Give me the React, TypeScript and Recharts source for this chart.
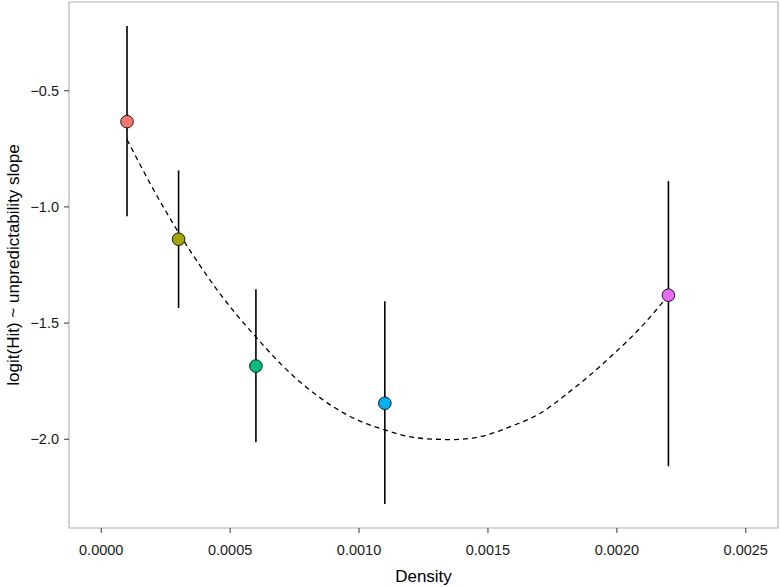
import React from 'react'
import {
  ComposedChart, Line, Scatter, ErrorBar, XAxis, YAxis, ReferenceArea, Cell,
} from 'recharts'

// group estimates
const densities = [0.0001, 0.0003, 0.0006, 0.0011, 0.0022]
const slopes = [-0.633, -1.139, -1.685, -1.845, -1.38]
const lower = [-1.04, -1.435, -2.013, -2.279, -2.116]
const upper = [-0.221, -0.843, -1.354, -1.406, -0.888]
const COLORS = ['#F8766D', '#A3A500', '#00BF7D', '#00B0F6', '#E76BF3']

// dashed fitted curve
const curveX = [0.0001, 0.0002, 0.0003, 0.0004, 0.0005, 0.0006, 0.0007, 0.0008, 0.0009, 0.001, 0.0011,
  0.0012, 0.0013, 0.0014, 0.0015, 0.0016, 0.0017, 0.0018, 0.0019, 0.002, 0.0021, 0.0022]
const curveY = [-0.71, -0.92, -1.11, -1.28, -1.43, -1.56, -1.68, -1.78, -1.86, -1.92, -1.96,
  -1.99, -2.0, -2.0, -1.98, -1.94, -1.89, -1.81, -1.72, -1.62, -1.51, -1.38]

const xTicks = [0, 0.0005, 0.001, 0.0015, 0.002, 0.0025]
const yTicks = [-2.0, -1.5, -1.0, -0.5]
const X_DOMAIN: [number, number] = [-0.000125, 0.002625]
const Y_DOMAIN: [number, number] = [-2.382, -0.118]

const FONT = "'Liberation Sans', Arial, sans-serif"
const TICK = { fontFamily: FONT, fontSize: 14.5, fill: '#1a1a1a' }
const TITLE = { fontFamily: FONT, fontSize: 17, fill: '#000' }

const points = densities.map((d, i) => ({
  x: d,
  y: slopes[i],
  err: [slopes[i] - lower[i], upper[i] - slopes[i]],
}))
const curve = curveX.map((x, i) => ({ x, y: curveY[i] }))

const fmtMinus = (v: number, digits: number) => {
  const s = v.toFixed(digits)
  return s.startsWith('-') ? '\u2212' + s.slice(1) : s
}

export default function App() {
  return (
    <div style={{ position: 'absolute', left: 0, top: 0, background: '#fff' }}>
      <ComposedChart width={780} height={587} margin={{ top: 2, right: 2, left: 0, bottom: 0 }}>
        <XAxis
          dataKey="x" type="number" domain={X_DOMAIN} ticks={xTicks} allowDataOverflow
          tickFormatter={(v: number) => v.toFixed(4)} tick={TICK}
          tickSize={5} tickMargin={12} height={59}
          axisLine={false} tickLine={{ stroke: '#333' }}
          label={{ value: 'Density', position: 'insideBottom', offset: 5, style: TITLE }}
        />
        <YAxis
          dataKey="y" type="number" domain={Y_DOMAIN} ticks={yTicks} allowDataOverflow
          tickFormatter={(v: number) => fmtMinus(v, 1)} tick={TICK}
          tickSize={5} tickMargin={5} width={69}
          axisLine={false} tickLine={{ stroke: '#333' }}
          label={{ value: 'logit(Hit) ~ unpredictability slope', angle: -90, position: 'insideLeft', offset: 8,
            dx: 5, style: { ...TITLE, textAnchor: 'middle' } }}
        />
        <ReferenceArea x1={X_DOMAIN[0]} x2={X_DOMAIN[1]} y1={Y_DOMAIN[0]} y2={Y_DOMAIN[1]}
          fill="none" stroke="#b3b3b3" strokeWidth={1.2} ifOverflow="visible" />
        <Line data={curve} dataKey="y" type="natural" stroke="#000" strokeWidth={1.3}
          strokeDasharray="5 4" dot={false} activeDot={false} isAnimationActive={false} />
        <Scatter data={points} dataKey="y" isAnimationActive={false}
          shape={(p: any) => <circle cx={p.cx} cy={p.cy} r={6.3} fill={p.fill} stroke="#1a1a1a" strokeWidth={1} />}>
          {points.map((_, i) => <Cell key={i} fill={COLORS[i]} />)}
          <ErrorBar dataKey="err" direction="y" width={0} stroke="#000" strokeWidth={1.6} isAnimationActive={false} />
        </Scatter>
      </ComposedChart>
    </div>
  )
}
